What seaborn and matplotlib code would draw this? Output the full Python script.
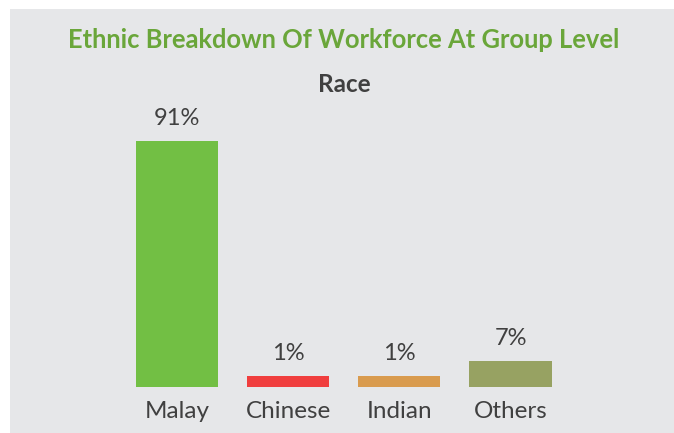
import matplotlib
matplotlib.use("Agg")
import matplotlib.pyplot as plt
import seaborn as sns
from matplotlib.patches import Rectangle

# data
races = ["Malay", "Chinese", "Indian", "Others"]
shares = [91, 1, 1, 7]                # printed labels (%)
bar_heights = [91, 4, 4, 9.6]         # drawn bar heights (chart uses a visual minimum)
bar_colors = ["#72bf44", "#f03e3e", "#d99b4e", "#97a262"]

bg = "#e6e7e9"
text_dark = "#404040"

sns.set_theme(style="white")
plt.rcParams["font.family"] = ["Lato", "DejaVu Sans"]

fig = plt.figure(figsize=(6.74, 4.33), dpi=100)
fig.patch.set_facecolor("white")
fig.add_artist(Rectangle((10 / 674, 0), 1, 1 - 9 / 433, transform=fig.transFigure,
                         facecolor=bg, edgecolor="none", zorder=-10))

ax = fig.add_axes([0.1801, 0.1062, 0.6598, 0.5682])
ax.set_facecolor("none")
sns.barplot(x=races, y=bar_heights, hue=races, palette=bar_colors, width=0.74,
            saturation=1, legend=False, linewidth=0, ax=ax)
ax.set_xlim(-0.5, 3.5)
ax.set_ylim(0, 91)

for i, (h, s) in enumerate(zip(bar_heights, shares)):
    ax.annotate(f"{s}%", (i, h), xytext=(0, 16.5), textcoords="offset points",
                ha="center", va="center", fontsize=17, color=text_dark,
                annotation_clip=False)

ax.set_yticks([])
ax.tick_params(axis="x", length=0, pad=10, labelsize=17.5, labelcolor=text_dark)
ax.set_xlabel("")
ax.set_ylabel("")
sns.despine(ax=ax, left=True, bottom=True)

fig.text(344 / 674, 1 - 40 / 433, "Ethnic Breakdown Of Workforce At Group Level",
         ha="center", va="center", fontsize=18.4, fontweight="bold", color="#6aa63a")
fig.text(344 / 674, 1 - 85 / 433, "Race", ha="center", va="center",
         fontsize=17.5, fontweight="bold", color=text_dark)

fig.savefig("out.png", dpi=100, facecolor=fig.get_facecolor())
